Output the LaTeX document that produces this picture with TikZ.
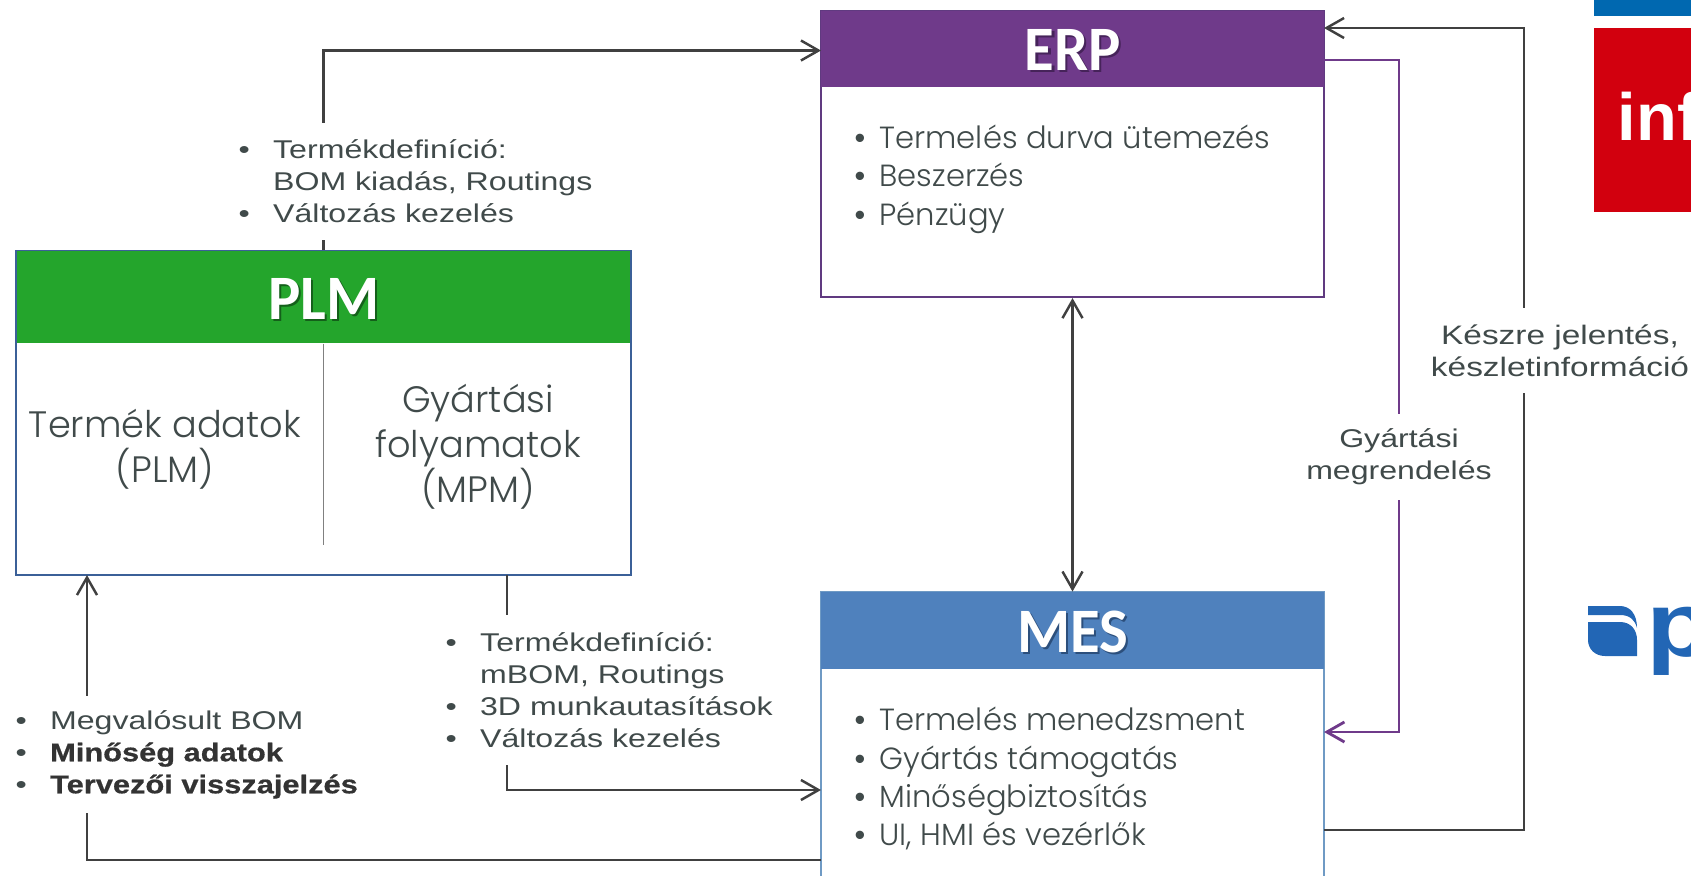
\documentclass[tikz,border=0pt]{standalone}
\usepackage{fontspec}
\usepackage{xcolor}
\usetikzlibrary{arrows.meta}
\newfontfamily\headfont[FakeStretch=0.96]{Carlito Bold}
\newfontfamily\bodyfont{Poppins Light}
\newfontfamily\labelfont[FakeStretch=1.25]{Liberation Sans}
\newfontfamily\boldlabelfont[FakeStretch=1.2,FakeBold=0.6]{Liberation Sans Bold}
\newfontfamily\dotfont{Liberation Sans}
\newfontfamily\logofont{Liberation Sans Bold}
\newfontfamily\aplfont[FakeStretch=1.2]{Liberation Sans Bold}
\definecolor{txtgrey}{HTML}{404A4A}
\definecolor{linegrey}{HTML}{404040}
\definecolor{erppurple}{HTML}{6F3A8A}
\definecolor{erpedge}{HTML}{603A80}
\definecolor{erpshade}{HTML}{46235A}
\definecolor{plmgreen}{HTML}{24A52C}
\definecolor{plmedge}{HTML}{3B6098}
\definecolor{plmshade}{HTML}{14601A}
\definecolor{mesblue}{HTML}{4F81BD}
\definecolor{mesedge}{HTML}{6F9AC4}
\definecolor{messhade}{HTML}{2C4F7C}
\definecolor{logored}{HTML}{D2000E}
\definecolor{logoblue}{HTML}{0068B0}
\definecolor{aplblue}{HTML}{2266B5}
\newcommand{\lbullet}{\makebox[9.8pt][l]{\textbullet}}
\newcommand{\lindent}{\hspace*{9.8pt}}
\newcommand{\bbullet}{\makebox[7.1pt][l]{{\dotfont\textbullet}}}
\newcommand{\strongtxt}[1]{{\boldlabelfont\color{black!80}#1}}
\newcommand{\shadedtxt}[2]{\leavevmode\rlap{\kern0.6pt\raisebox{-0.6pt}{\color{#1}#2}}#2}
\tikzset{
  bodybox/.style={draw,line width=0.7pt,fill=white,inner sep=0pt},
  headbox/.style={fill=#1,text=white,inner sep=0pt,
    font=\headfont\fontsize{18}{18}\selectfont},
  headtext/.style={text=white,inner sep=0pt,
    font=\headfont\fontsize{18}{18}\selectfont},
  conn/.style={draw=linegrey,line width=0.7pt,>={Straight Barb[length=5pt,width=5.7pt]}},
  orderconn/.style={conn,draw=erppurple,line width=0.8pt},
  listtext/.style={text=txtgrey,anchor=west,align=left,inner sep=0pt,
    font=\bodyfont\fontsize{8.7}{10.9}\selectfont},
  plmtext/.style={text=txtgrey,align=center,inner sep=0pt,
    font=\bodyfont\fontsize{10.45}{12.8}\selectfont},
  gaplabel/.style={fill=white,text=txtgrey,inner xsep=0pt,inner ysep=0pt,
    font=\labelfont\fontsize{7.3}{9.1}\selectfont},
}
\begin{document}
\begin{tikzpicture}[x=0.01cm,y=-0.01cm]
    \useasboundingbox (0,0) rectangle (1691,875);
    % logos
    \begin{scope}
      \clip (0,0) rectangle (1691,875);
      \fill[logoblue] (1594,0) rectangle (1691,16);
      \fill[logored] (1594,28) rectangle (1691,212);
      \node[anchor=base west,inner sep=0pt,text=white,font=\logofont\fontsize{19}{19}\selectfont] (infor) at (1617,140) {inf};
      \fill[aplblue] (1588,606) -- (1620,606) .. controls (1630,606) and (1637,614) .. (1637,628)
        .. controls (1635,620) and (1630,615) .. (1620,615) -- (1588,615) -- cycle;
      \fill[aplblue] (1588,622) -- (1620,622) .. controls (1631,622) and (1637,630) .. (1637,640)
        -- (1637,656) -- (1605,656) .. controls (1595,656) and (1588,649) .. (1588,640) -- cycle;
      \node[anchor=base west,inner sep=0pt,text=aplblue,font=\aplfont\fontsize{26}{26}\selectfont] (aplp) at (1646,656) {p};
    \end{scope}
    %
    \node[bodybox,draw=plmedge,minimum width=6.15cm,minimum height=3.24cm] (plm) at (323.5,413) {};
    \node[headbox=plmgreen,minimum width=6.13cm,minimum height=0.92cm] (plmhead) at (323.5,297) {};
    \node[bodybox,draw=erpedge,minimum width=5.03cm,minimum height=2.855cm] (erp) at (1072.5,154) {};
    \node[headbox=erppurple,minimum width=5.03cm,minimum height=0.755cm] (erphead) at (1072.5,49) {};
    \node[bodybox,draw=mesedge,minimum width=5.03cm,minimum height=2.9cm] (mes) at (1072.5,737) {};
    \node[headbox=mesblue,minimum width=5.03cm,minimum height=0.765cm] (meshead) at (1072.5,630.5) {};
    \node[headtext] (plmtitle) at (324,300) {\shadedtxt{plmshade}{PLM}};
    \node[headtext] (erptitle) at (1073,51) {\shadedtxt{erpshade}{ERP}};
    \node[headtext] (mestitle) at (1072.5,632.5) {\shadedtxt{messhade}{MES}};
    %
    \coordinate (plmdiv) at (323.5,545);
    \draw[gray,line width=0.4pt] (plmhead.south) -- (plmdiv);
    \node[plmtext] (plmdata) at (165,449) {Termék adatok\\(PLM)};
    \node[plmtext] (mpmdata) at (478,447) {Gyártási\\folyamatok\\(MPM)};
    %
    \node[listtext] (erplist) at (854,179) {\bbullet Termelés durva ütemezés\\\bbullet Beszerzés\\\bbullet Pénzügy};
    \node[listtext] (meslist) at (854,778.7) {\bbullet Termelés menedzsment\\\bbullet Gyártás támogatás\\\bbullet Minőségbiztosítás\\\bbullet UI, HMI és vezérlők};
    %
    \coordinate (plmout) at (507,575);
    \coordinate (plmin) at (87,575);
    \coordinate (erpwest) at (821,50.5);
    \coordinate (mesin) at (821,790);
    \coordinate (mesout) at (821,860);
    \coordinate (erpin) at (1324,28);
    \coordinate (erpout) at (1324,60);
    \coordinate (mesorder) at (1324,732);
    \coordinate (mesreport) at (1324,830);
    %
    \draw[conn,->] (plmhead.north) |- (erpwest);
    \draw[conn,->] (plmout) |- (mesin);
    \draw[conn,->] (mesout) -| (plmin);
    \draw[conn,<->] (erp.south) -- (meshead.north);
    \draw[orderconn,->] (erpout) -- (1399,60) -- (1399,732) -- (mesorder);
    \draw[conn,->] (mesreport) -- (1524,830) -- (1524,28) -- (erpin);
    %
    \node[gaplabel,anchor=west,align=left,minimum height=1.17cm] (toplabel) at (238,181.5)
      {\lbullet Termékdefiníció:\\\lindent BOM kiadás, Routings\\\lbullet Változás kezelés};
    \node[gaplabel,anchor=west,align=left,minimum height=1.5cm] (mbomlabel) at (445,690)
      {\lbullet Termékdefiníció:\\\lindent mBOM, Routings\\\lbullet 3D munkautasítások\\\lbullet Változás kezelés};
    \node[gaplabel,anchor=west,align=left,minimum height=1.17cm] (backlabel) at (15,754.5)
      {\lbullet Megvalósult BOM\\\lbullet \strongtxt{Minőség adatok}\\\lbullet \strongtxt{Tervezői visszajelzés}};
    \node[gaplabel,align=center,minimum height=0.86cm] (orderlabel) at (1399,457) {Gyártási\\megrendelés};
    \node[gaplabel,align=center,minimum height=0.85cm,font=\labelfont\fontsize{7.6}{9.1}\selectfont] (reportlabel) at (1560,350.5) {Készre jelentés,\\készletinformáció};
\end{tikzpicture}
\end{document}
